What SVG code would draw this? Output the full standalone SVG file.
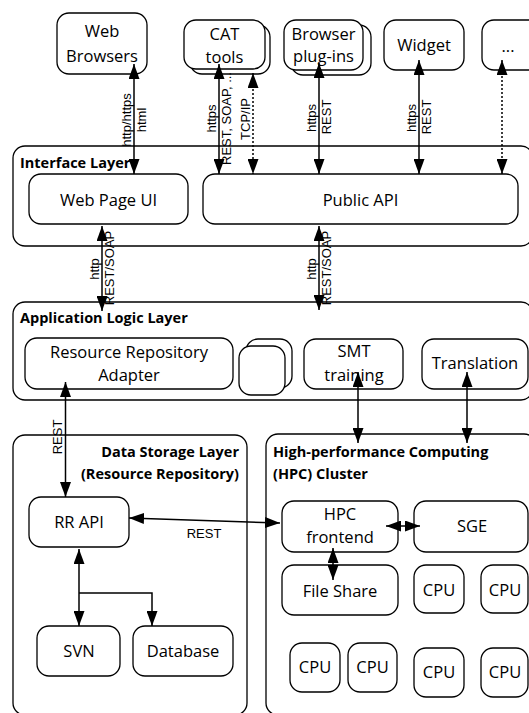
<svg xmlns="http://www.w3.org/2000/svg" width="529" height="713" viewBox="0 0 529 713">
  <style>
    .box { fill: #fff; stroke: #000; stroke-width: 1.3; }
    .layer { fill: none; stroke: #000; stroke-width: 1.3; }
    .n { font-family: "Open Sans", "Liberation Sans", sans-serif; font-size: 16.5px; text-anchor: middle; fill: #000; }
    .h { font-family: "Open Sans", "Liberation Sans", sans-serif; font-size: 14.5px; font-weight: bold; fill: #000; }
    .l { font-family: "Liberation Sans", Arial, sans-serif; font-size: 13px; text-anchor: middle; fill: #000; }
    .c { fill: none; stroke: #000; stroke-width: 1.5; }
    .both { marker-start: url(#ah); marker-end: url(#ah); }
    .end { marker-end: url(#ah); }
    .dot { stroke-dasharray: 2 2; }
  </style>
  <defs>
    <marker id="ah" viewBox="0 0 15 11" refX="15" refY="5.5" markerWidth="15" markerHeight="11" markerUnits="userSpaceOnUse" orient="auto-start-reverse">
      <path d="M0,0 L15,5.5 L0,11 z" fill="#000"/>
    </marker>
  </defs>

  <rect width="529" height="713" fill="#fff"/>

  <!-- layers -->
  <g id="interface-layer">
    <rect class="layer" x="13" y="146" width="520" height="100" rx="12"/>
    <text class="h" x="20" y="168">Interface Layer</text>
  </g>
  <g id="application-logic-layer">
    <rect class="layer" x="13" y="302" width="520" height="98" rx="12"/>
    <text class="h" x="20" y="323">Application Logic Layer</text>
  </g>
  <g id="data-storage-layer">
    <rect class="layer" x="13" y="435" width="234" height="280" rx="12"/>
    <text class="h" x="239" y="457" text-anchor="end">Data Storage Layer</text>
    <text class="h" x="239" y="479" text-anchor="end">(Resource Repository)</text>
  </g>
  <g id="hpc-cluster">
    <rect class="layer" x="266" y="434" width="270" height="281" rx="12"/>
    <text class="h" x="273" y="457">High-performance Computing</text>
    <text class="h" x="273" y="479">(HPC) Cluster</text>
  </g>

  <!-- clients -->
  <g id="web-browsers">
    <rect class="box" x="57" y="13" width="90" height="61" rx="12"/>
    <text class="n" x="102" y="37">Web</text>
    <text class="n" x="102" y="62">Browsers</text>
  </g>
  <g id="cat-tools">
    <rect class="box" x="190" y="25" width="80" height="49" rx="12"/>
    <rect class="box" x="184" y="20" width="81" height="49" rx="12"/>
    <text class="n" x="224.5" y="40">CAT</text>
    <text class="n" x="224.5" y="63">tools</text>
  </g>
  <g id="browser-plugins">
    <rect class="box" x="291" y="25" width="80" height="50" rx="12"/>
    <rect class="box" x="284" y="20" width="79" height="50" rx="12"/>
    <text class="n" x="323.5" y="40">Browser</text>
    <text class="n" x="323.5" y="62">plug-ins</text>
  </g>
  <g id="widget">
    <rect class="box" x="384" y="20" width="80" height="50" rx="12"/>
    <text class="n" x="424" y="51">Widget</text>
  </g>
  <g id="more-clients">
    <rect class="box" x="482" y="20" width="70" height="50" rx="12"/>
    <text class="n" x="508" y="52">...</text>
  </g>

  <!-- interface layer nodes -->
  <g id="web-page-ui">
    <rect class="box" x="29" y="174" width="159" height="50" rx="12"/>
    <text class="n" x="108.5" y="206">Web Page UI</text>
  </g>
  <g id="public-api">
    <rect class="box" x="203" y="174" width="315" height="50" rx="12"/>
    <text class="n" x="360.5" y="206">Public API</text>
  </g>

  <!-- application logic nodes -->
  <g id="rr-adapter">
    <rect class="box" x="25" y="338" width="208" height="51" rx="12"/>
    <text class="n" x="129" y="358">Resource Repository</text>
    <text class="n" x="129" y="381">Adapter</text>
  </g>
  <g id="other-modules">
    <rect class="box" x="246" y="339" width="46" height="49" rx="12"/>
    <rect class="box" x="239" y="346" width="46" height="49" rx="12"/>
  </g>
  <g id="smt-training">
    <rect class="box" x="304" y="339" width="99" height="50" rx="12"/>
    <text class="n" x="354" y="357">SMT</text>
    <text class="n" x="354" y="381">training</text>
  </g>
  <g id="translation">
    <rect class="box" x="422" y="339" width="106" height="50" rx="12"/>
    <text class="n" x="475" y="369">Translation</text>
  </g>

  <!-- data storage nodes -->
  <g id="rr-api">
    <rect class="box" x="29" y="497" width="100" height="50" rx="12"/>
    <text class="n" x="79" y="528">RR API</text>
  </g>
  <g id="svn">
    <rect class="box" x="37" y="626" width="83" height="50" rx="12"/>
    <text class="n" x="79" y="657">SVN</text>
  </g>
  <g id="database">
    <rect class="box" x="133" y="626" width="100" height="50" rx="12"/>
    <text class="n" x="183" y="657">Database</text>
  </g>

  <!-- HPC nodes -->
  <g id="hpc-frontend">
    <rect class="box" x="282" y="501" width="116" height="51" rx="12"/>
    <text class="n" x="340" y="520">HPC</text>
    <text class="n" x="340" y="543">frontend</text>
  </g>
  <g id="sge">
    <rect class="box" x="414" y="501" width="114" height="51" rx="12"/>
    <text class="n" x="472" y="532">SGE</text>
  </g>
  <g id="file-share">
    <rect class="box" x="282" y="565" width="116" height="50" rx="12"/>
    <text class="n" x="340" y="597">File Share</text>
  </g>
  <g id="cpu-1">
    <rect class="box" x="414" y="565" width="50" height="48" rx="12"/>
    <text class="n" x="439" y="596">CPU</text>
  </g>
  <g id="cpu-2">
    <rect class="box" x="481" y="565" width="47" height="48" rx="12"/>
    <text class="n" x="505" y="596">CPU</text>
  </g>
  <g id="cpu-3">
    <rect class="box" x="290" y="643" width="50" height="49" rx="12"/>
    <text class="n" x="315" y="673">CPU</text>
  </g>
  <g id="cpu-4">
    <rect class="box" x="348" y="643" width="49" height="49" rx="12"/>
    <text class="n" x="372.5" y="673">CPU</text>
  </g>
  <g id="cpu-5">
    <rect class="box" x="414" y="648" width="50" height="49" rx="12"/>
    <text class="n" x="439" y="678">CPU</text>
  </g>
  <g id="cpu-6">
    <rect class="box" x="481" y="648" width="47" height="49" rx="12"/>
    <text class="n" x="505" y="678">CPU</text>
  </g>

  <!-- connectors -->
  <g id="connectors">
    <path class="c both" d="M134,64 V174"/>
    <text class="l" transform="translate(131,120) rotate(-90)">http/https</text>
    <text class="l" transform="translate(146,120) rotate(-90)">html</text>

    <path class="c both" d="M219,64 V174"/>
    <text class="l" transform="translate(216,118.5) rotate(-90)">https</text>
    <text class="l" transform="translate(231,118.5) rotate(-90)">REST, SOAP, ...</text>

    <path class="c both dot" d="M253,73 V174"/>
    <text class="l" transform="translate(250,119) rotate(-90)">TCP/IP</text>

    <path class="c both" d="M319,63 V174"/>
    <text class="l" transform="translate(316,118) rotate(-90)">https</text>
    <text class="l" transform="translate(331,117) rotate(-90)">REST</text>

    <path class="c both" d="M419,60 V174"/>
    <text class="l" transform="translate(416,118) rotate(-90)">https</text>
    <text class="l" transform="translate(431,117) rotate(-90)">REST</text>

    <path class="c both dot" d="M502,60 V174"/>

    <path class="c both" d="M102,226 V311"/>
    <text class="l" transform="translate(99,269) rotate(-90)">http</text>
    <text class="l" transform="translate(114,268) rotate(-90)">REST/SOAP</text>

    <path class="c both" d="M319,226 V310"/>
    <text class="l" transform="translate(316,269) rotate(-90)">http</text>
    <text class="l" transform="translate(331,268) rotate(-90)">REST/SOAP</text>

    <path class="c both" d="M65.5,382 V497"/>
    <text class="l" transform="translate(62,437) rotate(-90)">REST</text>

    <path class="c both" d="M358,372 V443"/>
    <path class="c both" d="M467,372 V443"/>

    <path class="c both" d="M129,518 L280,523"/>
    <text class="l" x="204" y="538">REST</text>

    <path class="c both" d="M386,526 H420"/>
    <path class="c both" d="M333,548 V580"/>

    <path class="c both" d="M79,549 V626"/>
    <path class="c end" d="M79,593 H152 V626"/>
  </g>
</svg>
